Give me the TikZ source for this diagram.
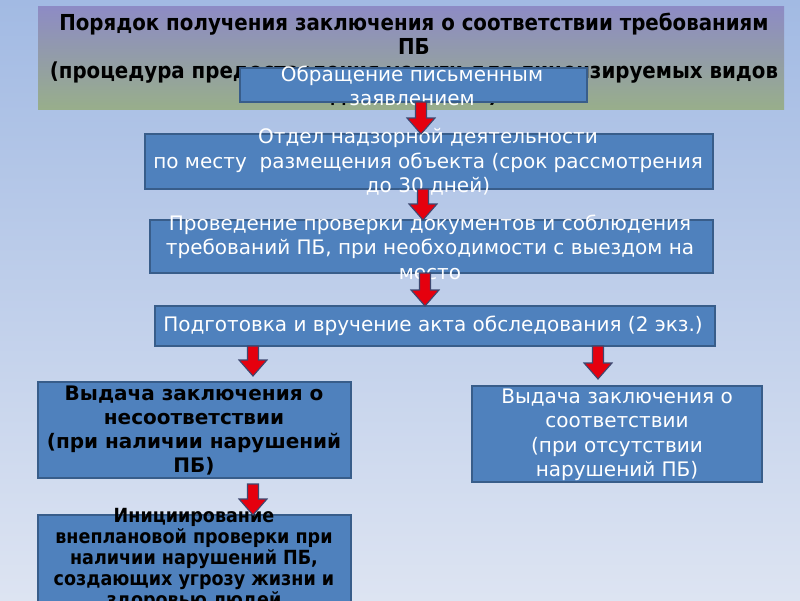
\documentclass[tikz,border=0pt]{standalone}
\usepackage{fontspec}
\setmainfont{DejaVu Sans}
\newfontfamily\condfont{DejaVu Sans Condensed}
\usetikzlibrary{calc}
\definecolor{bgtop}{HTML}{A2BAE3}
\definecolor{bgbot}{HTML}{DDE4F2}
\definecolor{ttop}{HTML}{8D8BC5}
\definecolor{tmid}{HTML}{98A0AE}
\definecolor{tbot}{HTML}{98AE8B}
\definecolor{boxfill}{HTML}{4F81BD}
\definecolor{boxline}{HTML}{385D8A}
\definecolor{arrred}{HTML}{E5000E}
\definecolor{arrline}{HTML}{3E4870}
\tikzset{
  bluebox/.style={draw=boxline, fill=boxfill, line width=1.5pt, inner sep=0pt, outer sep=0pt},
  whitetxt/.style={text=white, align=center, inner sep=0pt, font=\fontsize{20}{24.5}\selectfont},
  blacktxt/.style={text=black, align=center, inner sep=0pt},
  arrowst/.style={draw=arrline, fill=arrred, line width=1.1pt, line join=miter}
}
\newcommand\fatarrow[2]{%
  \draw[arrowst] let \p1=(#1), \p2=(#2) in
    (\x1-5.5pt,\y1) -- (\x1+5.5pt,\y1) -- (\x1+5.5pt,\y2+16pt) -- (\x1+14pt,\y2+16pt)
    -- (\x1,\y2) -- (\x1-14pt,\y2+16pt) -- (\x1-5.5pt,\y2+16pt) -- cycle;}
\begin{document}
\begin{tikzpicture}[x=1pt,y=-1pt]
\useasboundingbox (0,0) rectangle (800,600);
\clip (0,0) rectangle (800,600);
\shade[top color=bgtop, bottom color=bgbot] (0,0) rectangle (800,600);
% title
\node[inner sep=0pt, outer sep=0pt, minimum width=746pt, minimum height=103pt,
      top color=ttop, middle color=tmid, bottom color=tbot] (tbox) at (411,57.5) {};
\node[blacktxt, font=\condfont\bfseries\fontsize{22}{24}\selectfont] (title) at (414,59)
  {Порядок получения заключения о соответствии требованиям\\ПБ\\(процедура предоставления услуги для лицензируемых видов\\деятельности)};
% boxes
\node[bluebox, minimum width=347pt, minimum height=34pt] (b1) at (413.5,85) {};
\node[whitetxt] (t1) at (412,86) {Обращение письменным\\заявлением};
\node[bluebox, minimum width=568pt, minimum height=55pt] (b2) at (429,161.5) {};
\node[whitetxt] (t2) at (428,162) {Отдел надзорной деятельности\\по месту\ \ размещения объекта (срок рассмотрения\\до 30 дней)};
\node[bluebox, minimum width=563pt, minimum height=53pt] (b3) at (431.5,246.5) {};
\node[whitetxt] (t3) at (430,247) {Проведение проверки документов и соблюдения\\требований ПБ, при необходимости с выездом на\\место};
\node[bluebox, minimum width=560pt, minimum height=40pt] (b4) at (435,326) {};
\node[whitetxt] (t4) at (433,326) {Подготовка и вручение акта обследования (2 экз.)};
\node[bluebox, minimum width=313pt, minimum height=96pt] (b5L) at (194.5,430) {};
\node[blacktxt, font=\bfseries\fontsize{20}{24}\selectfont] (t5L) at (194,431) {Выдача заключения о\\несоответствии\\(при наличии нарушений\\ПБ)};
\node[bluebox, minimum width=290pt, minimum height=96pt] (b5R) at (617,434) {};
\node[whitetxt] (t5R) at (617,435) {Выдача заключения о\\соответствии\\(при отсутствии\\нарушений ПБ)};
\node[bluebox, minimum width=313pt, minimum height=92pt] (b6) at (194.5,561) {};
\node[blacktxt, font=\condfont\bfseries\fontsize{19.5}{21}\selectfont] (t6) at (194,559) {Инициирование\\внеплановой проверки при\\наличии нарушений ПБ,\\создающих угрозу жизни и\\здоровью людей};
% arrow helper coordinates
\coordinate (x1) at (421,0);
\coordinate (x2) at (423,0);
\coordinate (x3) at (425,0);
\coordinate (a4Le) at (253,376);
\coordinate (a4Re) at (598,379);
\coordinate (a5s) at (253,484);
\fatarrow{b1.south -| x1}{b2.north -| x1}
\fatarrow{b2.south -| x2}{b3.north -| x2}
\fatarrow{b3.south -| x3}{b4.north -| x3}
\fatarrow{b4.south -| a4Le}{a4Le}
\fatarrow{b4.south -| a4Re}{a4Re}
\fatarrow{a5s}{b6.north -| a5s}
\end{tikzpicture}
\end{document}
